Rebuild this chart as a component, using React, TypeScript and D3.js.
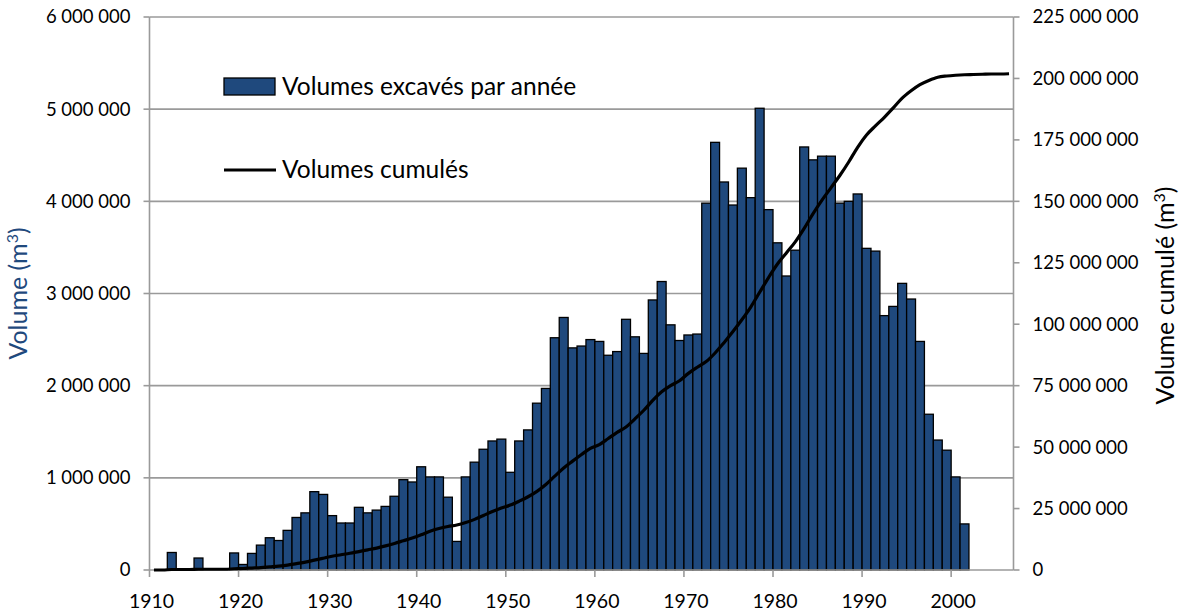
import { useEffect } from "react";
import * as d3 from "d3";

const WIDTH = 1189;
const HEIGHT = 616;
const MARGIN = { top: 17, right: 176, bottom: 46, left: 149.5 };

const FIRST_YEAR = 1910;
const LAST_YEAR = 2006;
const YEARS = d3.range(FIRST_YEAR, LAST_YEAR + 1);
const YEAR_TICKS = [1910, 1920, 1930, 1940, 1950, 1960, 1970, 1980, 1990, 2000];
const LEFT_TICKS = [0, 1e6, 2e6, 3e6, 4e6, 5e6, 6e6];
const RIGHT_TICKS = [0, 25e6, 50e6, 75e6, 100e6, 125e6, 150e6, 175e6, 200e6, 225e6];

// volumes excavés par année (millions m3), 1910 -> 2001
const yearlyVolumes = [
  0, 0, 0.19, 0, 0, 0.13, 0, 0, 0, 0.185,
  0.06, 0.18, 0.27, 0.35, 0.32, 0.43, 0.57, 0.62, 0.85, 0.82,
  0.59, 0.51, 0.51, 0.68, 0.62, 0.65, 0.69, 0.8, 0.98, 0.955,
  1.12, 1.01, 1.01, 0.79, 0.31, 1.01, 1.17, 1.31, 1.4, 1.42,
  1.06, 1.4, 1.52, 1.81, 1.97, 2.52, 2.74, 2.41, 2.43, 2.5,
  2.48, 2.33, 2.37, 2.72, 2.53, 2.35, 2.93, 3.13, 2.66, 2.49,
  2.55, 2.56, 3.98, 4.64, 4.21, 3.96, 4.36, 4.04, 5.01, 3.91,
  3.55, 3.19, 3.47, 4.59, 4.45, 4.49, 4.49, 3.98, 4.0, 4.08,
  3.49, 3.46, 2.76, 2.86, 3.11, 2.94, 2.48, 1.69, 1.41, 1.3,
  1.01, 0.5,
];

// volumes cumulés (millions m3), 1910 -> 2006
const cumulativeVolumes = [
  0, 0, 0.2, 0.2, 0.2, 0.3, 0.3, 0.3, 0.3, 0.5,
  0.6, 0.8, 1.0, 1.3, 1.6, 2.0, 2.6, 3.2, 4.0, 4.8,
  5.6, 6.2, 6.8, 7.5, 8.2, 8.9, 9.8, 10.8, 11.9, 13.0,
  14.3, 15.8, 16.9, 17.7, 18.3, 19.3, 20.6, 22.2, 23.8, 25.2,
  26.4, 28.0, 29.8, 32.0, 34.8, 38.2, 41.5, 44.3, 47.0, 49.5,
  51.0, 53.5, 56.0, 58.2, 61.5, 65.0, 69.0, 72.5, 75.0, 77.0,
  80.0, 82.5, 84.8, 88.3, 92.5, 97.0, 101.8, 107.0, 113.0, 119.0,
  124.5, 129.0, 133.5, 139.0, 145.0, 150.5, 155.5, 160.5, 166.0, 172.0,
  177.0, 180.7, 184.2, 188.0, 192.0, 195.0, 197.5, 199.2, 200.5, 201.0,
  201.3, 201.5, 201.6, 201.7, 201.8, 201.8, 201.9,
];

const BAR_COLOR = "#1F497D";
const GRID_COLOR = "#9a9a9a";
const FONT = "Lato, 'Open Sans', sans-serif";

const fr = d3.formatLocale({ decimal: ",", thousands: " ", grouping: [3], currency: ["", ""] });
const fmt = fr.format(",d");

export default function App() {
  useEffect(() => {
    document.body.style.margin = "0";
  }, []);

  const x = d3
    .scaleBand<number>()
    .domain(YEARS)
    .range([MARGIN.left, WIDTH - MARGIN.right + 0.5])
    .padding(0);
  const yLeft = d3.scaleLinear().domain([0, 6e6]).range([HEIGHT - MARGIN.bottom, MARGIN.top]);
  const yRight = d3.scaleLinear().domain([0, 225e6]).range([HEIGHT - MARGIN.bottom, MARGIN.top]);
  const bw = x.bandwidth();
  const x0 = MARGIN.left;
  const x1 = WIDTH - MARGIN.right + 0.5;
  const yBase = HEIGHT - MARGIN.bottom;

  const line = d3
    .line<number>()
    .x((_, i) => (x(YEARS[i]) ?? 0) + bw / 2)
    .y((v) => yRight(v * 1e6))
    .curve(d3.curveMonotoneX);

  return (
    <svg width={WIDTH} height={HEIGHT} style={{ display: "block", fontFamily: FONT }}>
      <rect width={WIDTH} height={HEIGHT} fill="#fff" />

      {/* gridlines */}
      {LEFT_TICKS.filter((t) => t > 0).map((t) => (
        <line key={`g-${t}`} x1={x0} x2={x1} y1={yLeft(t)} y2={yLeft(t)} stroke={GRID_COLOR} strokeWidth={1.6} />
      ))}

      {/* bars */}
      {yearlyVolumes.map((v, i) =>
        v > 0 ? (
          <rect
            key={`b-${i}`}
            x={x(YEARS[i])}
            y={yLeft(v * 1e6)}
            width={bw}
            height={yBase - yLeft(v * 1e6)}
            fill={BAR_COLOR}
            stroke="#000"
            strokeWidth={1.3}
          />
        ) : null,
      )}

      {/* axes */}
      <line x1={x0} x2={x0} y1={MARGIN.top} y2={yBase} stroke={GRID_COLOR} strokeWidth={1.6} />
      <line x1={x1} x2={x1} y1={MARGIN.top} y2={yBase} stroke={GRID_COLOR} strokeWidth={1.6} />
      <line x1={x0} x2={x1} y1={yBase} y2={yBase} stroke={GRID_COLOR} strokeWidth={1.6} />

      {LEFT_TICKS.map((t) => (
        <g key={`l-${t}`}>
          <line x1={x0 - 6} x2={x0} y1={yLeft(t)} y2={yLeft(t)} stroke={GRID_COLOR} strokeWidth={1.6} />
          <text x={x0 - 19} y={yLeft(t)} dy="0.35em" textAnchor="end" fontSize={18.5} fill="#000">
            {fmt(t)}
          </text>
        </g>
      ))}

      {RIGHT_TICKS.map((t) => (
        <g key={`r-${t}`}>
          <line x1={x1} x2={x1 + 6} y1={yRight(t)} y2={yRight(t)} stroke={GRID_COLOR} strokeWidth={1.6} />
          <text x={x1 + 19} y={yRight(t)} dy="0.35em" textAnchor="start" fontSize={18.5} fill="#000">
            {fmt(t)}
          </text>
        </g>
      ))}

      {YEAR_TICKS.map((yr) => (
        <g key={`x-${yr}`}>
          <line x1={x(yr)} x2={x(yr)} y1={yBase} y2={yBase + 7} stroke={GRID_COLOR} strokeWidth={1.6} />
          <text x={(x(yr) ?? 0) + 2} y={yBase + 38} textAnchor="middle" fontSize={19.5} fill="#000">
            {yr}
          </text>
        </g>
      ))}

      {/* cumulative line */}
      <path d={line(cumulativeVolumes) ?? ""} fill="none" stroke="#000" strokeWidth={3.2} strokeLinejoin="round" />

      {/* axis titles */}
      <text transform={`translate(27 ${(MARGIN.top + yBase) / 2}) rotate(-90)`} textAnchor="middle" fontSize={25} fill={BAR_COLOR}>
        Volume (m<tspan dy="-9" fontSize={16}>3</tspan><tspan dy="9">)</tspan>
      </text>
      <text transform={`translate(1174 ${(MARGIN.top + yBase) / 2 + 2}) rotate(-90)`} textAnchor="middle" fontSize={25} fill="#000">
        Volume cumulé (m<tspan dy="-9" fontSize={16}>3</tspan><tspan dy="9">)</tspan>
      </text>

      {/* legend */}
      <rect x={224} y={78} width={51} height={17} fill={BAR_COLOR} stroke="#000" strokeWidth={1.3} />
      <text x={282} y={95} fontSize={24.5} fill="#000">
        Volumes excavés par année
      </text>
      <line x1={224} x2={276} y1={170} y2={170} stroke="#000" strokeWidth={3.2} />
      <text x={282} y={178} fontSize={24.5} fill="#000">
        Volumes cumulés
      </text>
    </svg>
  );
}
